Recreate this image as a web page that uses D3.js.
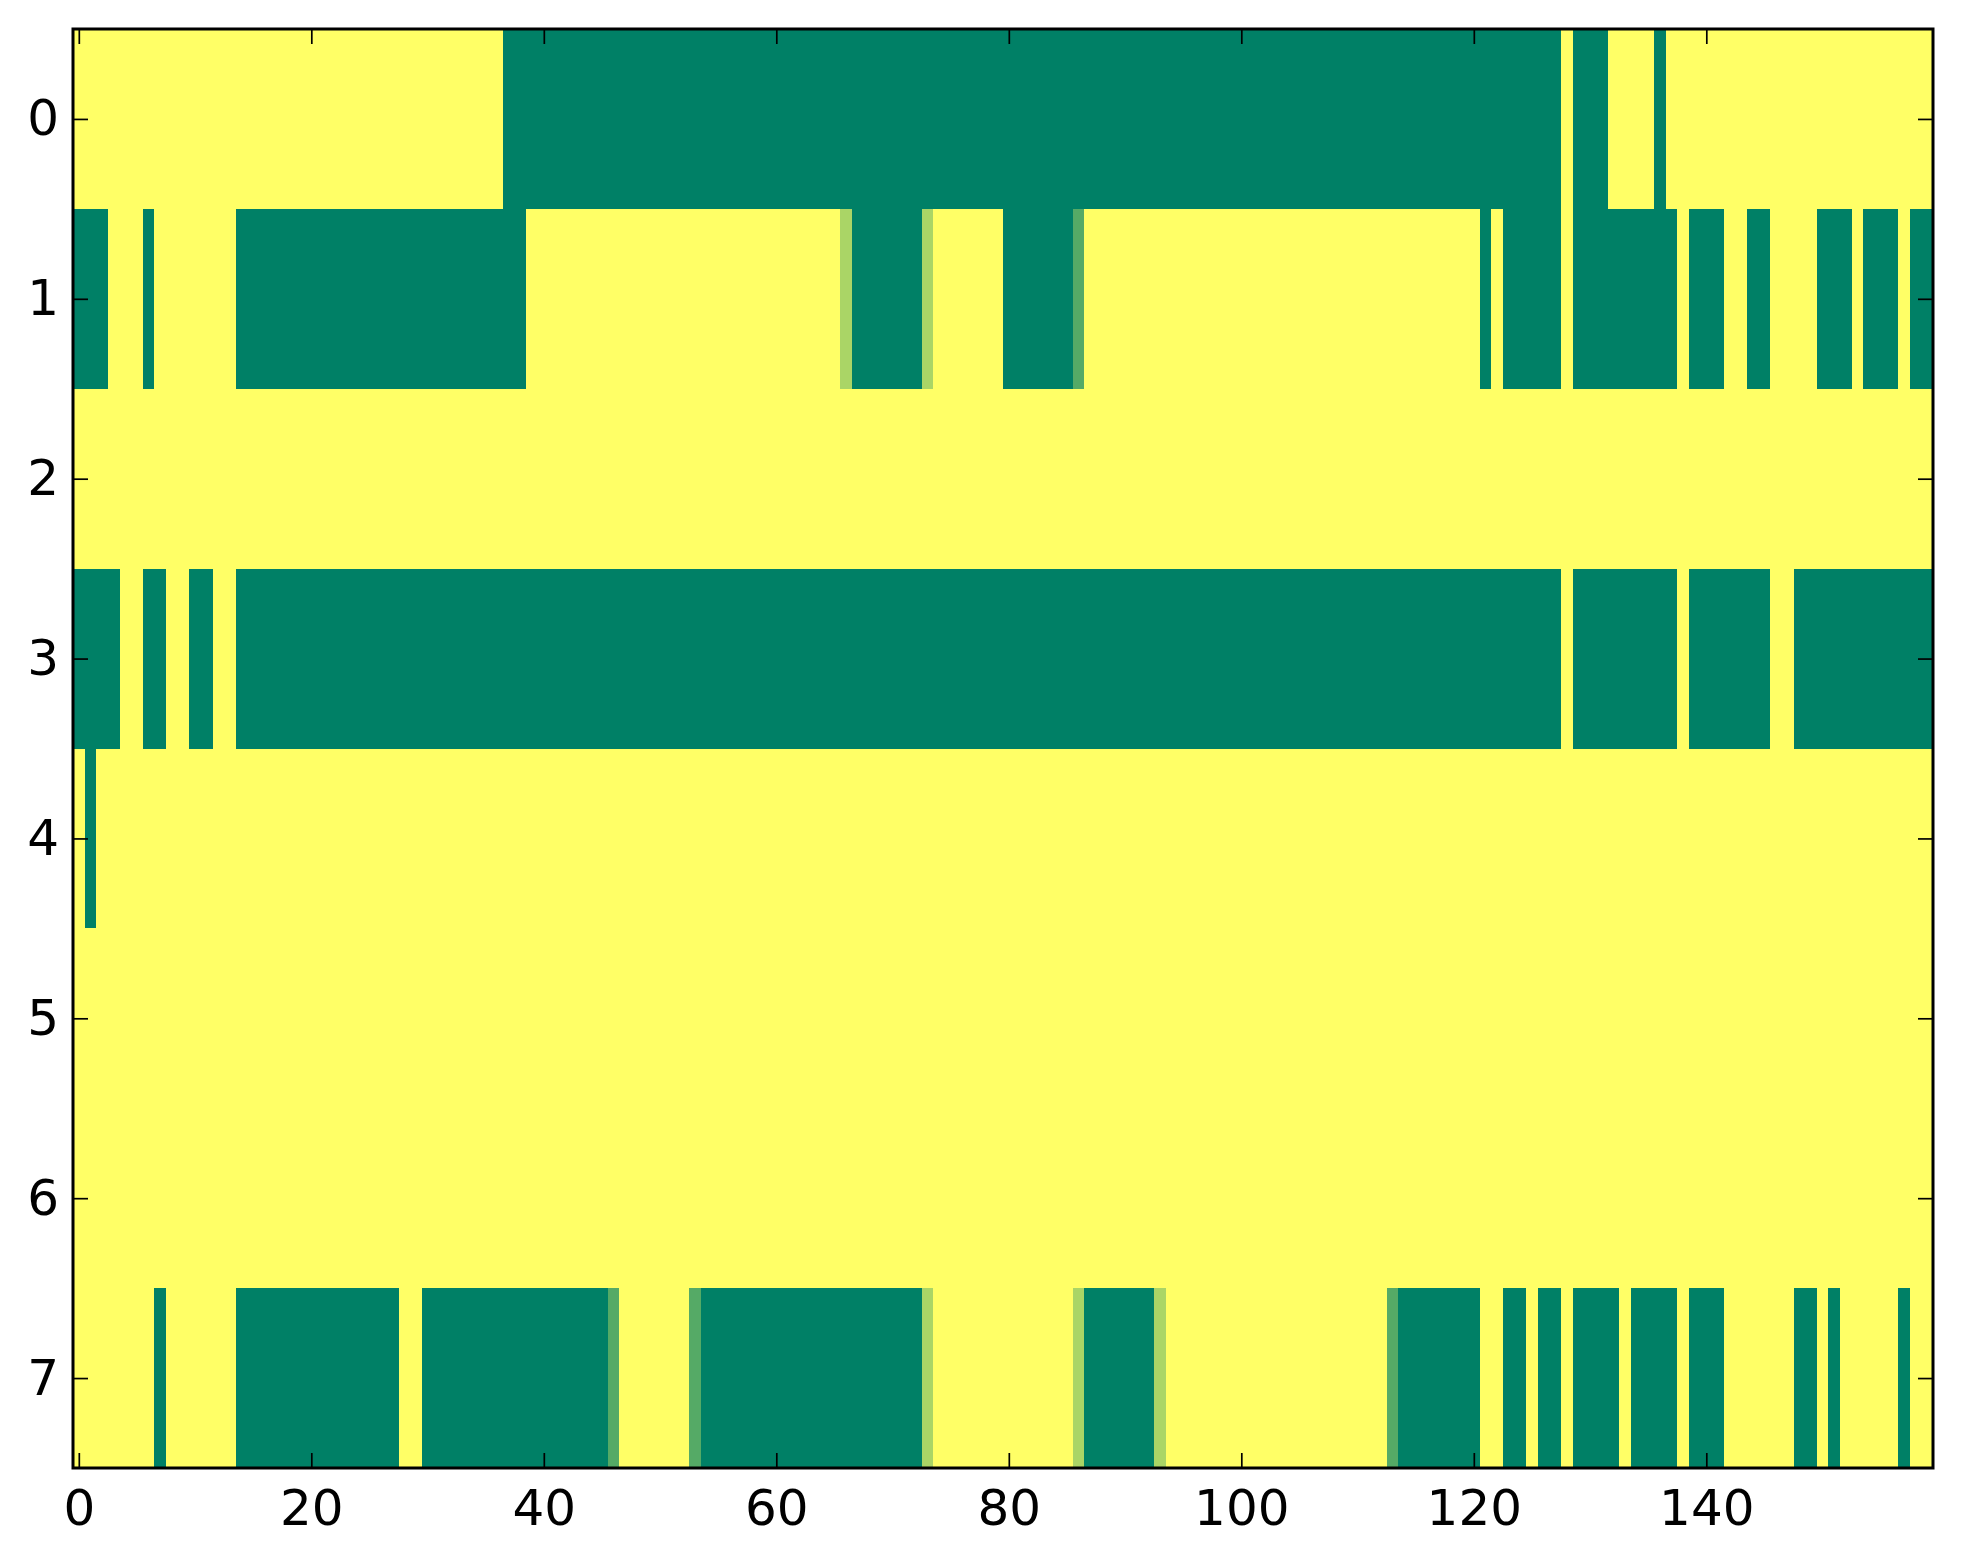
<!DOCTYPE html>
<html>
<head>
<meta charset="utf-8">
<script src="https://cdn.jsdelivr.net/npm/d3@7"></script>
<style>
body { margin: 0; background: #fff; }
text { font-family: "DejaVu Sans", sans-serif; }
</style>
</head>
<body>
<script>
// one string per image row, one digit per column, 0 = lowest, 9 = highest
// (groups of ten columns separated by spaces)
var row0 = "9999999999 9999999999 9999999999 9999999000 0000000000 0000000000 0000000000 0000000000 0000000000 0000000000 0000000000 0000000000 0000000090 0099990999 9999999999 9999999999";
var row1 = "0009990999 9999000000 0000000000 0000000009 9999999999 9999999999 9999996000 0006999999 0000003999 9999999999 9999999999 9999999999 9090000090 0000000090 0099009999 0009000900";
var row2 = "9999999999 9999999999 9999999999 9999999999 9999999999 9999999999 9999999999 9999999999 9999999999 9999999999 9999999999 9999999999 9999999999 9999999999 9999999999 9999999999";
var row3 = "0000990099 0099000000 0000000000 0000000000 0000000000 0000000000 0000000000 0000000000 0000000000 0000000000 0000000000 0000000000 0000000090 0000000090 0000009900 0000000000";
var row4 = "9099999999 9999999999 9999999999 9999999999 9999999999 9999999999 9999999999 9999999999 9999999999 9999999999 9999999999 9999999999 9999999999 9999999999 9999999999 9999999999";
var row5 = "9999999999 9999999999 9999999999 9999999999 9999999999 9999999999 9999999999 9999999999 9999999999 9999999999 9999999999 9999999999 9999999999 9999999999 9999999999 9999999999";
var row6 = "9999999999 9999999999 9999999999 9999999999 9999999999 9999999999 9999999999 9999999999 9999999999 9999999999 9999999999 9999999999 9999999999 9999999999 9999999999 9999999999";
var row7 = "9999999099 9999000000 0000000099 0000000000 0000003999 9993000000 0000000000 0006999999 9999996000 0006999999 9999999999 9993000000 0990090090 0009000090 0099999900 9099999099";
var rows = [row0, row1, row2, row3, row4, row5, row6, row7];

var xTicks = [0, 20, 40, 60, 80, 100, 120, 140];
var yTicks = [0, 1, 2, 3, 4, 5, 6, 7];

var width = 1963;
var height = 1564;
var plotLeft = 73, plotRight = 1933, plotTop = 29, plotBottom = 1468;

var cells = [];
rows.forEach(function(r, i) {
    r.replace(/ /g, "").split("").forEach(function(ch, j) {
        cells.push({row: i, col: j, value: +ch});
    });
});
var ncols = rows[0].replace(/ /g, "").length;

var x = d3.scaleLinear().domain([-0.5, ncols - 0.5]).range([plotLeft, plotRight]);
var y = d3.scaleLinear().domain([-0.5, rows.length - 0.5]).range([plotTop, plotBottom]);
// matplotlib "summer" map: (v, 0.5 + 0.5v, 0.4)
var color = d3.scaleLinear().domain([0, 9]).range(["#008066", "#ffff66"]);

var svg = d3.select("body").append("svg")
    .attr("width", width)
    .attr("height", height);

svg.append("g")
    .attr("shape-rendering", "crispEdges")
    .selectAll("rect")
    .data(cells)
    .enter().append("rect")
    .attr("x", function(d) { return x(d.col - 0.5); })
    .attr("y", function(d) { return y(d.row - 0.5); })
    .attr("width", function(d) { return x(d.col + 0.5) - x(d.col - 0.5) + 0.5; })
    .attr("height", function(d) { return y(d.row + 0.5) - y(d.row - 0.5) + 0.5; })
    .attr("fill", function(d) { return color(d.value); });

var tickLen = 15;

function styleAxis(g) {
    g.select(".domain").remove();
    g.selectAll(".tick line").attr("stroke", "#000").attr("stroke-width", 1.7);
    g.selectAll(".tick text")
        .attr("fill", "#000")
        .style("font-family", "'DejaVu Sans', sans-serif")
        .style("font-size", "50px");
}

svg.append("g")
    .attr("transform", "translate(0," + plotBottom + ")")
    .call(d3.axisBottom(x).tickValues(xTicks).tickSizeInner(-tickLen).tickSizeOuter(0).tickPadding(21))
    .call(styleAxis);

svg.append("g")
    .attr("transform", "translate(0," + plotTop + ")")
    .call(d3.axisTop(x).tickValues(xTicks).tickSizeInner(-tickLen).tickSizeOuter(0).tickFormat(""))
    .call(styleAxis);

svg.append("g")
    .attr("transform", "translate(" + plotLeft + ",0)")
    .call(d3.axisLeft(y).tickValues(yTicks).tickSizeInner(-tickLen).tickSizeOuter(0).tickPadding(14))
    .call(styleAxis);

svg.append("g")
    .attr("transform", "translate(" + plotRight + ",0)")
    .call(d3.axisRight(y).tickValues(yTicks).tickSizeInner(-tickLen).tickSizeOuter(0).tickFormat(""))
    .call(styleAxis);

// frame
svg.append("rect")
    .attr("x", plotLeft)
    .attr("y", plotTop)
    .attr("width", plotRight - plotLeft)
    .attr("height", plotBottom - plotTop)
    .attr("fill", "none")
    .attr("stroke", "#000")
    .attr("stroke-width", 3);
</script>
</body>
</html>
